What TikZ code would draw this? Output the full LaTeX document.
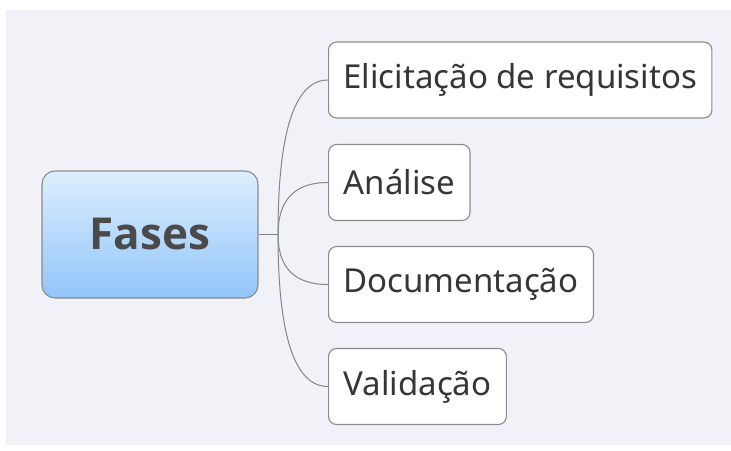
\documentclass[tikz,border=0pt]{standalone}
\usepackage{fontspec}
\setmainfont{Noto Sans}
\newfontfamily\rootfont{Open Sans}
\usetikzlibrary{calc}
\definecolor{bggrey}{HTML}{F1F2F7}
\definecolor{boxline}{HTML}{8C8C8C}
\definecolor{linkgrey}{HTML}{858585}
\definecolor{txtgrey}{HTML}{363636}
\definecolor{roottop}{HTML}{DDEEFE}
\definecolor{rootbot}{HTML}{92C5F9}
\begin{document}
\begin{tikzpicture}[x=1pt,y=-1pt,
        phase/.style={draw=boxline,line width=1.1pt,fill=white,rounded corners=8pt,
            anchor=west,inner xsep=15pt,minimum height=76pt,text=txtgrey,
            font=\fontsize{33}{33}\selectfont},
        root/.style={draw=boxline,line width=1.1pt,top color=roottop,bottom color=rootbot,
            rounded corners=13pt,minimum width=216pt,minimum height=127pt,
            text=txtgrey!90,font=\rootfont\fontsize{44}{44}\selectfont\bfseries},
        link/.style={draw=linkgrey,line width=1pt}]
        \useasboundingbox (0,0) rectangle (731,450);
        \fill[bggrey] (6,10) rectangle (731,445);

        \node[root] (fases) at (150,234.5) {Fases};
        \begin{scope}[every node/.style={phase}]
            \node (elic) at (328,80) {Elicitação de requisitos};
            \node (anal) at (328,182.5) {Análise};
            \node (docu) at (328,284.5) {Documentação};
            \node (vali) at (328,386.5) {Validação};
        \end{scope}

        \coordinate (hub) at (278,234.5);
        \draw[link] (fases.east) -- (hub);
        \foreach \n in {elic,anal,docu,vali}
            \draw[link] (hub) .. controls ($(hub)!0.667!(hub |- \n.west)$)
                and ($(\n.west)!0.667!(hub |- \n.west)$) .. (\n.west);
    \end{tikzpicture}
\end{document}
